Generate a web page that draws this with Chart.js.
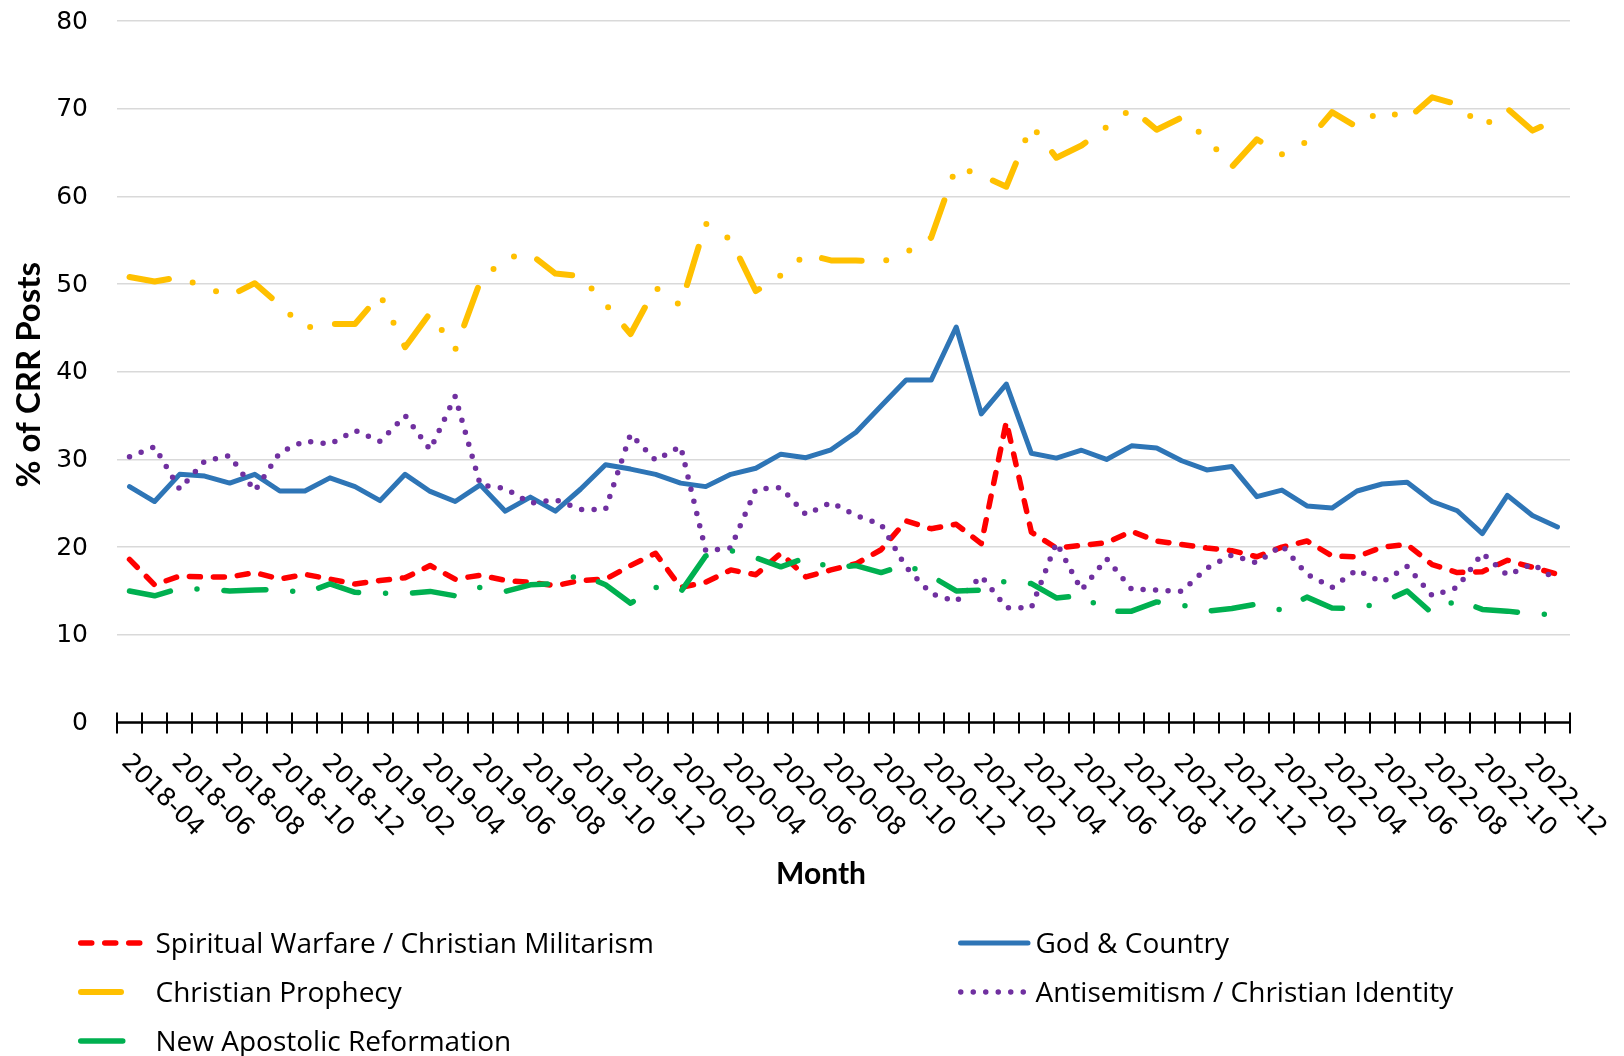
<!DOCTYPE html>
<html>
<head>
<meta charset="utf-8">
<script src="https://cdn.jsdelivr.net/npm/chart.js@4.4.0/dist/chart.umd.min.js"></script>
<style>
    html, body { margin: 0; padding: 0; background: #fff; }
    #wrap { position: relative; width: 1624px; height: 1056px; }
    #chart { position: absolute; left: 0; top: 0; }
    .leg-text { position: absolute; font-family: "Open Sans", sans-serif; font-size: 28px; color: #000;
                white-space: nowrap; height: 30px; line-height: 30px; }
    .leg-line { position: absolute; }
</style>
</head>
<body>
<div id="wrap">
    <canvas id="chart" width="1624" height="1056"></canvas>
    <div id="legend"></div>
</div>
<script>
const months = [
    '2018-04', '2018-05', '2018-06', '2018-07', '2018-08', '2018-09', '2018-10', '2018-11', '2018-12',
    '2019-01', '2019-02', '2019-03', '2019-04', '2019-05', '2019-06', '2019-07', '2019-08', '2019-09', '2019-10', '2019-11', '2019-12',
    '2020-01', '2020-02', '2020-03', '2020-04', '2020-05', '2020-06', '2020-07', '2020-08', '2020-09', '2020-10', '2020-11', '2020-12',
    '2021-01', '2021-02', '2021-03', '2021-04', '2021-05', '2021-06', '2021-07', '2021-08', '2021-09', '2021-10', '2021-11', '2021-12',
    '2022-01', '2022-02', '2022-03', '2022-04', '2022-05', '2022-06', '2022-07', '2022-08', '2022-09', '2022-10', '2022-11', '2022-12',
    '2023-01',
];

// % of CRR posts per month
const spiritualWarfare = [
    18.6, 15.7, 16.7, 16.6, 16.6, 17.1, 16.35, 16.9, 16.35, 15.8, 16.2, 16.5, 17.9, 16.35, 16.8, 16.2, 16.0, 15.6, 16.2, 16.35,
    17.9, 19.3, 15.4, 16.0, 17.4, 16.85, 19.3, 16.6, 17.4, 18.1, 19.7, 23.0, 22.1, 22.6, 20.4, 34.3, 21.7, 19.9, 20.2, 20.5,
    21.8, 20.7, 20.3, 19.9, 19.6, 18.9, 20.0, 20.7, 19.0, 18.9, 20.0, 20.3, 18.0, 17.1, 17.2, 18.5, 17.7, 16.9,
];
const godAndCountry = [
    26.9, 25.2, 28.3, 28.1, 27.3, 28.3, 26.4, 26.4, 27.9, 26.9, 25.3, 28.3, 26.35, 25.2, 27.1, 24.1, 25.7, 24.1, 26.6, 29.4,
    28.9, 28.3, 27.3, 26.9, 28.3, 29.0, 30.6, 30.2, 31.1, 33.1, 36.1, 39.05, 39.05, 45.1, 35.2, 38.6, 30.7, 30.15, 31.05, 30.0,
    31.55, 31.3, 29.85, 28.8, 29.2, 25.75, 26.5, 24.7, 24.45, 26.4, 27.2, 27.4, 25.2, 24.15, 21.55, 25.9, 23.6, 22.3,
];
const christianProphecy = [
    50.8, 50.3, 50.8, 49.6, 48.65, 50.1, 47.6, 45.0, 45.45, 45.45, 48.8, 42.8, 46.7, 42.5, 50.3, 53.0, 53.4, 51.2, 50.9, 47.7,
    44.3, 49.6, 47.55, 56.9, 55.05, 49.2, 51.0, 53.4, 52.7, 52.7, 52.5, 53.6, 55.3, 63.4, 62.4, 61.1, 68.1, 64.4, 65.8, 67.9,
    70.0, 67.6, 69.0, 66.6, 63.35, 66.5, 64.8, 66.25, 69.6, 67.9, 69.9, 68.8, 71.3, 70.5, 67.9, 70.0, 67.5, 68.8,
];
const antisemitism = [
    30.3, 31.45, 26.6, 29.8, 30.45, 26.4, 30.8, 32.1, 31.75, 33.3, 32.05, 35.0, 31.1, 37.2, 27.1, 26.7, 25.0, 25.4, 24.3, 24.3,
    32.9, 29.9, 31.5, 19.6, 19.9, 26.6, 26.8, 23.7, 25.1, 23.6, 22.6, 17.7, 14.7, 13.8, 16.7, 13.1, 13.1, 20.5, 15.1, 18.7,
    15.2, 15.1, 14.95, 17.6, 19.1, 18.2, 20.2, 16.9, 15.4, 17.4, 16.0, 17.8, 14.45, 15.4, 19.3, 16.8, 18.1, 16.2,
];
const newApostolic = [
    15.0, 14.45, 15.3, 15.2, 15.0, 15.1, 15.2, 14.75, 15.8, 14.85, 14.75, 14.7, 14.95, 14.45, 15.4, 14.95, 15.7, 15.85, 16.9, 15.7,
    13.6, 15.4, 14.9, 19.0, 19.6, 18.8, 17.75, 18.8, 17.6, 17.9, 17.1, 18.0, 16.7, 15.0, 15.1, 16.15, 15.85, 14.2, 14.5, 12.7,
    12.7, 13.75, 13.4, 12.7, 13.0, 13.5, 12.8, 14.3, 13.05, 13.0, 13.7, 15.0, 12.45, 14.0, 12.9, 12.7, 12.4, 12.3,
];
const yTicks = [0, 10, 20, 30, 40, 50, 60, 70, 80];

const tickFont = '25px "DejaVu Sans"';

// excel draws later series on top, chart.js draws lower order on top
const datasets = [
    { label: 'Spiritual Warfare / Christian Militarism', data: spiritualWarfare, borderColor: '#FF0000',
      borderWidth: 5.5, borderDash: [11, 13], order: 5 },
    { label: 'God & Country', data: godAndCountry, borderColor: '#2E75B6', borderWidth: 5, borderDash: [], order: 4 },
    { label: 'Christian Prophecy', data: christianProphecy, borderColor: '#FFC000',
      borderWidth: 6, borderDash: [40, 25, 0, 25, 0, 25], order: 3 },
    { label: 'Antisemitism / Christian Identity', data: antisemitism, borderColor: '#7030A0',
      borderWidth: 5.5, borderDash: [0, 12.5], order: 2 },
    { label: 'New Apostolic Reformation', data: newApostolic, borderColor: '#00B050',
      borderWidth: 5.5, borderDash: [42, 27, 0, 27], order: 1 },
];
datasets.forEach(ds => {
    ds.fill = false;
    ds.pointRadius = 0;
    ds.tension = 0;
    ds.borderCapStyle = 'round';
    ds.borderJoinStyle = 'round';
});

// axis line with cross ticks, tick labels and axis titles
const axisDecor = {
    id: 'axisDecor',
    afterDraw(chart) {
        const ctx = chart.ctx;
        const xs = chart.scales.x;
        const ys = chart.scales.y;
        const y0 = ys.getPixelForValue(0);
        ctx.save();
        ctx.strokeStyle = '#000';
        ctx.lineWidth = 2.5;
        ctx.beginPath();
        ctx.moveTo(xs.getPixelForValue(-0.5), y0);
        ctx.lineTo(xs.getPixelForValue(months.length - 0.5), y0);
        ctx.stroke();
        ctx.lineWidth = 2;
        ctx.beginPath();
        for (let i = 0; i <= months.length; i++) {
            const x = Math.round(xs.getPixelForValue(i - 0.5));
            ctx.moveTo(x, y0 - 10);
            ctx.lineTo(x, y0 + 11);
        }
        ctx.stroke();

        ctx.fillStyle = '#000';
        ctx.font = tickFont;
        ctx.textAlign = 'right';
        ctx.textBaseline = 'middle';
        yTicks.forEach(v => ctx.fillText(String(v), 88, ys.getPixelForValue(v) + 1));

        ctx.textAlign = 'left';
        ctx.textBaseline = 'alphabetic';
        months.forEach((m, i) => {
            if (i % 2 !== 0) return;
            const x = xs.getPixelForValue(i);
            ctx.save();
            ctx.translate(x - 9, y0 + 41);
            ctx.rotate(Math.PI / 4);
            ctx.fillText(m, 0, 0);
            ctx.restore();
        });

        ctx.textAlign = 'center';
        ctx.textBaseline = 'middle';
        ctx.font = 'bold 30px Lato';
        ctx.fillText('Month', 821, 874);
        ctx.font = 'bold 33px Lato';
        ctx.save();
        ctx.translate(29, (ys.top + ys.bottom) / 2 + 3);
        ctx.rotate(-Math.PI / 2);
        ctx.fillText('% of CRR Posts', 0, 0);
        ctx.restore();
        ctx.restore();
    },
};

const chart = new Chart(document.getElementById('chart').getContext('2d'), {
    type: 'line',
    data: { labels: months, datasets: datasets },
    options: {
        responsive: false,
        animation: false,
        devicePixelRatio: 1,
        layout: { padding: { top: 21, right: 54, left: 0, bottom: 0 } },
        plugins: { legend: { display: false }, tooltip: { enabled: false } },
        scales: {
            x: {
                type: 'category',
                offset: true,
                grid: { display: false },
                border: { display: false },
                ticks: { display: false },
                afterFit: (scale) => { scale.height = 333.5; },
            },
            y: {
                min: 0,
                max: 80,
                afterBuildTicks: (scale) => { scale.ticks = yTicks.map(v => ({ value: v })); },
                grid: { color: '#D9D9D9', lineWidth: 1.5, drawTicks: false },
                border: { display: false },
                ticks: { display: false, padding: 0 },
                afterFit: (scale) => { scale.width = 117; },
            },
        },
    },
    plugins: [axisDecor],
});

// legend in two columns like the original
const legendPos = [
    { line: [78, 68], text: 155.5, y: 943 },
    { line: [958, 72.5], text: 1035.5, y: 943 },
    { line: [78, 49.5], text: 155.5, y: 992 },
    { line: [958, 70], text: 1035.5, y: 992 },
    { line: [78, 49.5], text: 155.5, y: 1041 },
];
const legendEl = document.getElementById('legend');
datasets.forEach((ds, i) => {
    const p = legendPos[i];
    const c = document.createElement('canvas');
    c.className = 'leg-line';
    c.width = Math.ceil(p.line[1]);
    c.height = 12;
    c.style.left = p.line[0] + 'px';
    c.style.top = (p.y - 6) + 'px';
    const g = c.getContext('2d');
    g.strokeStyle = ds.borderColor;
    g.lineWidth = ds.borderWidth;
    g.lineCap = 'round';
    g.setLineDash(ds.borderDash);
    const r = ds.borderWidth / 2;
    g.beginPath();
    g.moveTo(r, 6);
    g.lineTo(p.line[1] - r, 6);
    g.stroke();
    legendEl.appendChild(c);

    const t = document.createElement('div');
    t.className = 'leg-text';
    t.style.left = p.text + 'px';
    t.style.top = (p.y - 16) + 'px';
    t.textContent = ds.label;
    legendEl.appendChild(t);
});
</script>
</body>
</html>
